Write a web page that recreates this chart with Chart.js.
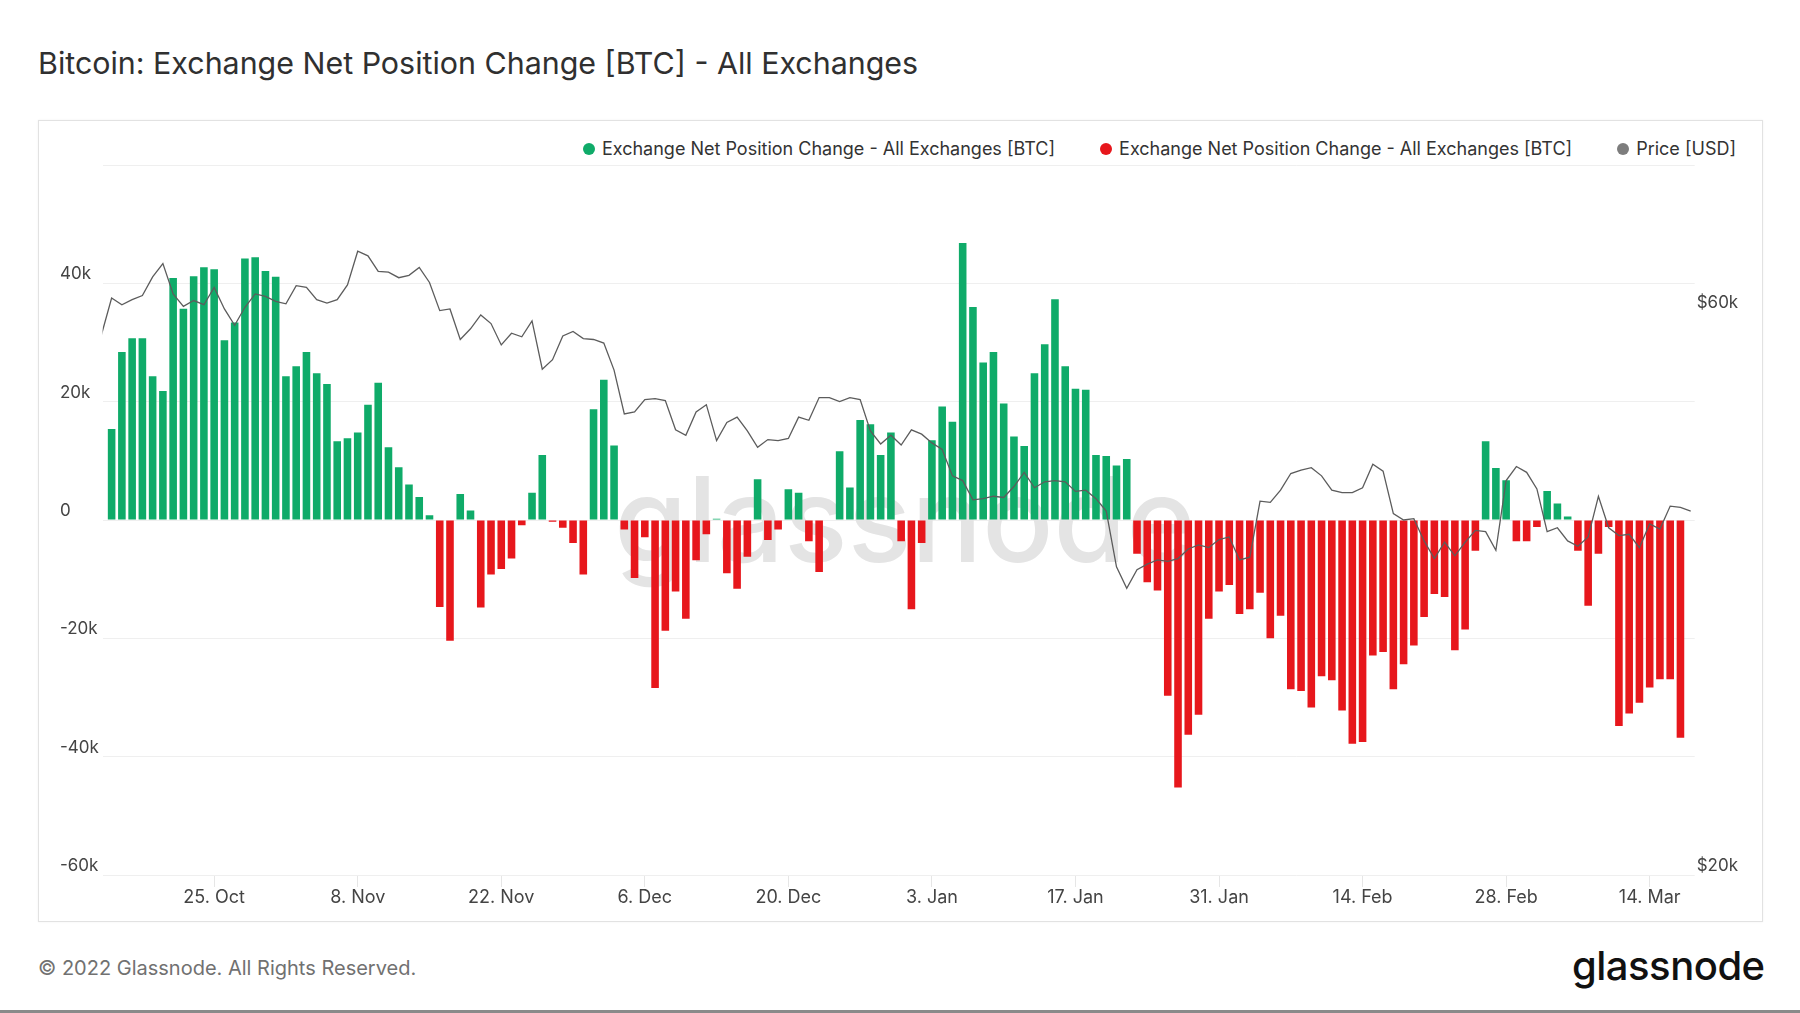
<!DOCTYPE html>
<html>
<head>
<meta charset="utf-8">
<script src="https://cdn.jsdelivr.net/npm/chart.js@4.4.1/dist/chart.umd.min.js"></script>
<style>
  html, body { margin: 0; padding: 0; background: #fff; }
  body { width: 1800px; height: 1013px; position: relative; overflow: hidden; font-family: Inter, 'Noto Sans', sans-serif; }
  #title { position: absolute; left: 38px; top: 45px; font-size: 30.4px; color: #303030; white-space: nowrap; }
  #frame { position: absolute; left: 38px; top: 120px; width: 1723px; height: 800px; border: 1px solid #e2e2e2; box-shadow: 0 0 2px rgba(0,0,0,0.06); }
  #legend { position: absolute; right: 64px; top: 138px; display: flex; align-items: center; font-size: 18px; color: #333; white-space: nowrap; }
  #legend .item { display: flex; align-items: center; margin-left: 45px; }
  #legend .item:first-child { margin-left: 0; }
  #legend .dot { width: 12px; height: 12px; border-radius: 50%; margin-right: 7px; }
  #footer { position: absolute; left: 38px; top: 956px; font-size: 20px; color: #717171; }
  #logo { position: absolute; left: 1572px; top: 941px; font-size: 40px; font-weight: 500; color: #111; letter-spacing: -0.5px; }
  #bottomline { position: absolute; left: 0; top: 1010px; width: 1800px; height: 3px; background: #8a8a8a; }
  #chart { position: absolute; left: 0; top: 0; }
</style>
</head>
<body>
<div id="title">Bitcoin: Exchange Net Position Change [BTC] - All Exchanges</div>
<div id="frame"></div>
<div id="legend"></div>
<div id="footer">© 2022 Glassnode. All Rights Reserved.</div>
<div id="logo">glassnode</div>
<div id="bottomline"></div>
<canvas id="chart" width="1800" height="1013"></canvas>
<script>
// daily net position change [BTC], 15 Oct 2021 .. 17 Mar 2022
const netChange = [
  15400, 28400, 30700, 30700, 24300, 21800, 40900, 35700, 41200, 42700,
  42400, 30400, 33400, 44200, 44400, 42100, 41100, 24300, 26000, 28400,
  24800, 23000, 13300, 13800, 14800, 19500, 23200, 12300, 8900, 6000,
  3900, 800, -14700, -20400, 4400, 1600, -14800, -9200, -8300, -6500,
  -900, 4600, 11000, -300, -1300, -3900, -9200, 18700, 23700, 12600,
  -1600, -9800, -2900, -28400, -18700, -12100, -16700, -6800, -2400, 200,
  -9000, -11600, -6200, 6900, -3400, -1600, 5200, 4600, -3600, -8800,
  0, 11600, 5500, 16900, 16200, 11000, 14800, -3600, -15100, -3900,
  13500, 19200, 16600, 46800, 36000, 26600, 28400, 19700, 14100, 12500,
  24800, 29700, 37300, 26000, 22200, 22000, 11000, 10800, 9200, 10300,
  -5700, -10500, -11900, -29700, -45200, -36300, -32900, -16700, -12100, -11000,
  -15900, -15100, -12300, -20000, -16200, -28600, -28900, -31700, -26400, -27100,
  -32200, -37800, -37500, -22900, -22300, -28600, -24400, -21200, -16400, -12500,
  -13000, -22000, -18500, -5200, 13300, 8800, 6700, -3600, -3600, -1200,
  4900, 2800, 600, -5200, -14500, -5700, -1200, -34800, -32700, -30900,
  -28300, -26900, -26900, -36800
];

// BTC price [USD], 14 Oct 2021 .. 18 Mar 2022 (one day earlier than the bars)
const price = [
  57400, 61700, 60900, 61500, 62000, 64300, 66000, 62200, 60700, 61400,
  60900, 63000, 60400, 58500, 60600, 62200, 61900, 61300, 61000, 63200,
  63000, 61500, 61100, 61500, 63300, 67600, 67000, 65000, 64900, 64200,
  64500, 65500, 63600, 60200, 60400, 56900, 58100, 59700, 58700, 56300,
  57600, 57200, 59000, 53700, 54700, 57300, 57800, 57000, 56900, 56500,
  53600, 49200, 49400, 50600, 50700, 50500, 47700, 47200, 49400, 50100,
  46700, 48400, 48900, 47600, 46100, 46800, 46700, 46900, 48900, 48600,
  50800, 50800, 50400, 50800, 50600, 47600, 46400, 47200, 46300, 47700,
  47300, 46500, 45900, 43600, 43200, 41600, 41700, 41900, 41800, 42700,
  43900, 42600, 43100, 43200, 43100, 42300, 42400, 41700, 40700, 36500,
  35000, 36300, 36700, 37000, 36900, 37100, 37800, 38100, 37900, 38500,
  38700, 37000, 37200, 41500, 41400, 42400, 43800, 44100, 44300, 43600,
  42400, 42200, 42200, 42600, 44600, 44000, 40500, 40000, 40100, 38400,
  37100, 38300, 37300, 38300, 39200, 39100, 37700, 43200, 44400, 43900,
  42500, 39100, 39400, 38400, 38000, 38700, 41900, 39400, 38800, 38900,
  37900, 39700, 39300, 41100, 41000, 40700
];

// x-axis ticks, as day offsets from 15 Oct 2021
const tickDays = [10, 24, 38, 52, 66, 80, 94, 108, 122, 136, 150];
const tickLabels = ['25. Oct', '8. Nov', '22. Nov', '6. Dec', '20. Dec', '3. Jan', '17. Jan', '31. Jan', '14. Feb', '28. Feb', '14. Mar'];

const priceTicks = [20000, 60000];

const seriesNames = ['Exchange Net Position Change - All Exchanges [BTC]', 'Exchange Net Position Change - All Exchanges [BTC]', 'Price [USD]'];
const seriesColors = ['#0fab69', '#e7171c', '#7d7d7d'];

// legend
const legend = document.getElementById('legend');
seriesNames.forEach((name, i) => {
  const item = document.createElement('div');
  item.className = 'item';
  item.innerHTML = '<span class="dot" style="background:' + seriesColors[i] + '"></span><span>' + name + '</span>';
  legend.appendChild(item);
});

const watermark = {
  id: 'watermark',
  beforeDatasetsDraw(chart) {
    const ctx = chart.ctx;
    ctx.save();
    ctx.font = '500 118px Inter';
    ctx.fillStyle = '#e4e4e4';
    ctx.textAlign = 'center';
    ctx.textBaseline = 'alphabetic';
    ctx.fillText('glassnode', 905, 562);
    ctx.restore();
  }
};

const tickFont = { family: 'Inter', size: 17 };

new Chart(document.getElementById('chart'), {
  type: 'bar',
  data: {
    datasets: [
      {
        type: 'line',
        label: seriesNames[2],
        data: price.map((p, i) => ({ x: i - 1, y: p })),
        yAxisID: 'y1',
        borderColor: '#5c5c5c',
        borderWidth: 1.3,
        pointRadius: 0,
        tension: 0,
        order: 0
      },
      {
        label: seriesNames[0],
        data: netChange.map((v, i) => ({ x: i, y: v > 0 ? v : null })),
        backgroundColor: seriesColors[0],
        yAxisID: 'y',
        grouped: false,
        barPercentage: 0.74,
        categoryPercentage: 1,
        order: 1
      },
      {
        label: seriesNames[1],
        data: netChange.map((v, i) => ({ x: i, y: v < 0 ? v : null })),
        backgroundColor: seriesColors[1],
        yAxisID: 'y',
        grouped: false,
        barPercentage: 0.74,
        categoryPercentage: 1,
        order: 2
      }
    ]
  },
  options: {
    responsive: false,
    animation: false,
    devicePixelRatio: 1,
    layout: { padding: { left: 60, top: 165, right: 38, bottom: 98 } },
    plugins: { legend: { display: false }, tooltip: { enabled: false } },
    scales: {
      x: {
        type: 'linear',
        min: -0.88,
        max: 154.39,
        offset: false,
        grid: { offset: false, drawOnChartArea: false, drawTicks: true, tickLength: 12, color: '#e6e6e6' },
        border: { display: false },
        afterBuildTicks: s => { s.ticks = tickDays.map(v => ({ value: v })); },
        afterFit: s => { s.height = 40; },
        ticks: {
          autoSkip: false,
          maxRotation: 0,
          padding: 0,
          color: '#444',
          font: { family: 'Inter', size: 18 },
          callback: v => tickLabels[tickDays.indexOf(v)]
        }
      },
      y: {
        position: 'left',
        min: -60000,
        max: 60000,
        grid: { color: '#efefef', drawTicks: false },
        border: { display: false },
        afterFit: s => { s.width = 42.6; },
        ticks: {
          stepSize: 20000,
          crossAlign: 'far',
          padding: 0,
          labelOffset: -9,
          color: '#444',
          font: tickFont,
          callback: v => v === 60000 ? '' : (v === 0 ? '0' : (v / 1000) + 'k')
        }
      },
      y1: {
        type: 'logarithmic',
        position: 'right',
        min: 20000,
        max: 80000,
        grid: { display: false },
        border: { display: false },
        afterBuildTicks: s => { s.ticks = priceTicks.map(v => ({ value: v })); },
        afterFit: s => { s.width = 67.3; },
        ticks: {
          padding: -6,
          labelOffset: -9,
          color: '#444',
          font: tickFont,
          callback: v => '$' + (v / 1000) + 'k'
        }
      }
    }
  },
  plugins: [watermark]
});
</script>
</body>
</html>
